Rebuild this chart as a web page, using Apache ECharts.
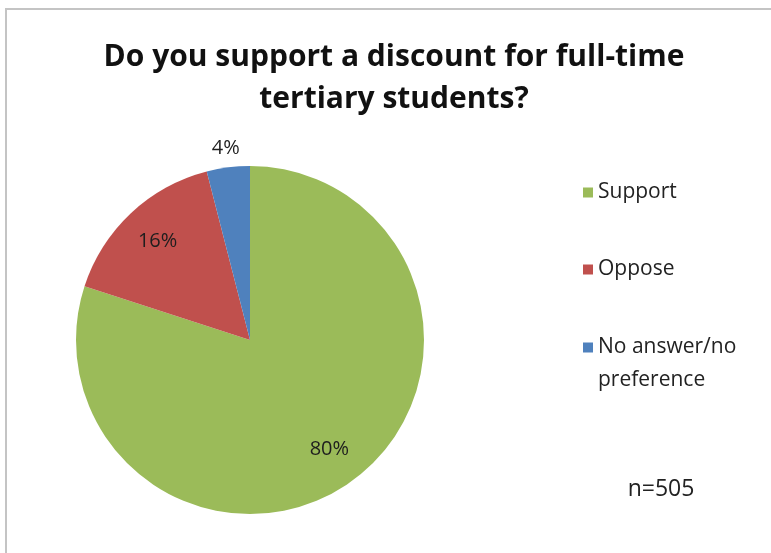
<!DOCTYPE html>
<html>
<head>
<meta charset="utf-8">
<script src="https://cdn.jsdelivr.net/npm/echarts@6/dist/echarts.min.js"></script>
<style>
  html, body { margin: 0; padding: 0; background: #fff; }
  #chart { width: 771px; height: 553px; }
</style>
</head>
<body>
<div id="chart"></div>
<script>
// Survey answers
const categories = ['Support', 'Oppose', 'No answer/no preference'];
const shares = [80, 16, 4];
const colors = ['#9BBB59', '#C0504D', '#4F81BD'];
const sampleNote = 'n=505';
const titleText = 'Do you support a discount for full-time\ntertiary students?';

const FONT = '"Open Sans", "Noto Sans", sans-serif';
const center = [250, 340];
const R = 174;

const pieData = categories.map((name, i) => ({
  name: name,
  value: shares[i],
  itemStyle: { color: colors[i] }
}));

// Label-only rings share the pie's angles so the percentage labels sit
// at the same radial positions as in the usual office-style layout.
function labelRing(radius, showIdx) {
  return {
    type: 'pie',
    center: center,
    radius: [0, radius],
    startAngle: 90,
    clockwise: true,
    silent: true,
    animation: false,
    legendHoverLink: false,
    emphasis: { disabled: true },
    itemStyle: { color: 'rgba(0,0,0,0)' },
    labelLine: { show: false },
    data: categories.map((name, i) => ({
      name: name,
      value: shares[i],
      itemStyle: { color: 'rgba(0,0,0,0)' },
      label: {
        show: showIdx.indexOf(i) >= 0,
        position: 'inside',
        formatter: '{c}%',
        fontFamily: FONT,
        fontSize: 20,
        color: '#1e1e1e'
      }
    }))
  };
}

const legendBase = {
  orient: 'vertical',
  left: 583,
  padding: 0,
  icon: 'rect',
  itemWidth: 10,
  itemHeight: 10,
  itemGap: 0,
  selectedMode: false,
  textStyle: { fontFamily: FONT, fontSize: 21, color: '#222', lineHeight: 33 }
};

const chart = echarts.init(document.getElementById('chart'), null, { renderer: 'canvas' });
chart.setOption({
  backgroundColor: '#ffffff',
  animation: false,
  color: colors,
  title: [
    {
      text: titleText,
      left: 389,
      top: 31,
      textAlign: 'center',
      textStyle: { fontFamily: FONT, fontSize: 30, fontWeight: 'bold', color: '#111', lineHeight: 42 }
    },
    {
      text: sampleNote,
      left: 656,
      top: 473,
      textAlign: 'center',
      textStyle: { fontFamily: FONT, fontSize: 23, fontWeight: 'normal', color: '#222' }
    }
  ],
  legend: [
    Object.assign({}, legendBase, { top: 176, data: [categories[0]] }),
    Object.assign({}, legendBase, { top: 253, data: [categories[1]] }),
    Object.assign({}, legendBase, {
      top: 298,
      data: [categories[2]],
      // empty first line lifts the two text lines so the swatch sits on the first one
      formatter: () => '\nNo answer/no\npreference'
    })
  ],
  graphic: [{
    type: 'rect',
    silent: true,
    shape: { x: 6, y: 9, width: 900, height: 700 },
    style: { fill: 'none', stroke: '#c4c4c4', lineWidth: 2 }
  }],
  series: [
    {
      type: 'pie',
      center: center,
      radius: [0, R],
      startAngle: 90,
      clockwise: true,
      silent: true,
      animation: false,
      label: { show: false },
      labelLine: { show: false },
      emphasis: { disabled: true },
      data: pieData
    },
    labelRing(264, [0, 1]),
    labelRing(380, [2])
  ]
});
</script>
</body>
</html>
